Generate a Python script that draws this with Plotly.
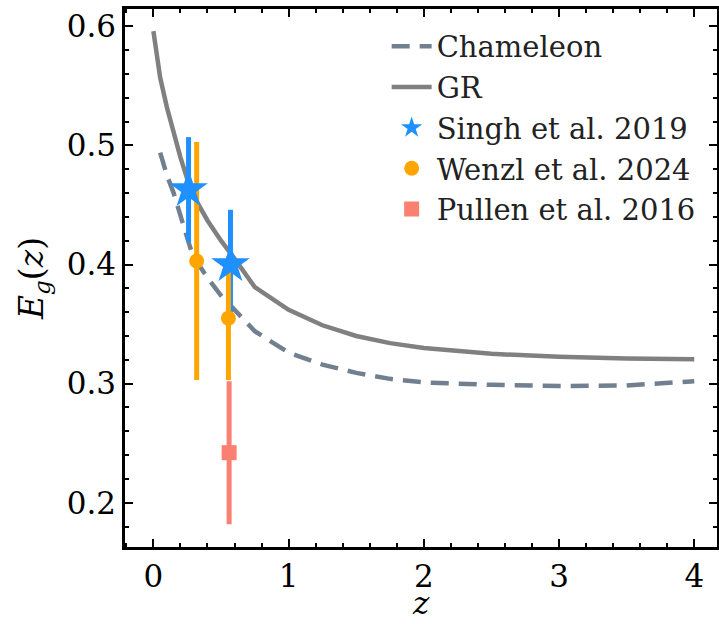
import plotly.graph_objects as go

# GR curve
z_gr = [0.0, 0.05, 0.1, 0.15, 0.2, 0.25, 0.3, 0.4, 0.5, 0.6, 0.75, 1.0, 1.25, 1.5, 1.75, 2.0, 2.5, 3.0, 3.5, 4.0]
eg_gr = [0.596, 0.557, 0.532, 0.510, 0.490, 0.472, 0.457, 0.437, 0.420, 0.405, 0.381, 0.362, 0.349, 0.340, 0.334, 0.330, 0.325, 0.3225, 0.321, 0.3205]

# Chameleon curve
z_ch = [0.05, 0.1, 0.15, 0.2, 0.273, 0.3, 0.4, 0.5, 0.6, 0.75, 1.0, 1.25, 1.5, 1.75, 2.0, 2.5, 3.0, 3.5, 4.0]
eg_ch = [0.494, 0.475, 0.460, 0.440, 0.414, 0.406, 0.389, 0.374, 0.362, 0.344, 0.326, 0.316, 0.309, 0.304, 0.301, 0.299, 0.298, 0.2985, 0.302]

# Data points
z_singh = [0.26, 0.57]
eg_singh = [0.463, 0.400]
err_singh = [0.044, 0.046]

z_wenzl = [0.32, 0.555]
eg_wenzl = [0.403, 0.355]
err_wenzl = [0.100, 0.052]

z_pullen = [0.56]
eg_pullen = [0.242]
err_pullen = [0.060]

FONT = "DejaVu Serif"

fig = go.Figure()
fig.add_trace(go.Scatter(x=z_ch, y=eg_ch, mode="lines", name="Chameleon", legendgroup="a",
                         line=dict(color="#708090", width=4.5, dash="18px,10px"), legendrank=1))
fig.add_trace(go.Scatter(x=z_gr, y=eg_gr, mode="lines", name="GR", legendgroup="b",
                         line=dict(color="#808080", width=4.5), legendrank=2))
# Singh error bars (beneath other data)
fig.add_trace(go.Scatter(x=z_singh, y=eg_singh, mode="markers", showlegend=False,
                         marker=dict(size=1, color="rgba(0,0,0,0)"),
                         error_y=dict(type="data", array=err_singh, color="#1E90FF", thickness=5, width=0)))
fig.add_trace(go.Scatter(x=z_wenzl, y=eg_wenzl, mode="markers", name="Wenzl et al. 2024", legendgroup="d",
                         marker=dict(symbol="circle", size=15, color="#FFA500"),
                         error_y=dict(type="data", array=err_wenzl, color="#FFA500", thickness=5, width=0),
                         legendrank=4))
fig.add_trace(go.Scatter(x=z_pullen, y=eg_pullen, mode="markers", name="Pullen et al. 2016", legendgroup="e",
                         marker=dict(symbol="square", size=15, color="#FA8072"),
                         error_y=dict(type="data", array=err_pullen, color="#FA8072", thickness=5, width=0),
                         legendrank=5))
fig.add_trace(go.Scatter(x=z_singh, y=eg_singh, mode="markers", name="Singh et al. 2019", legendgroup="c",
                         marker=dict(symbol="star", size=29, color="#1E90FF"),
                         legendrank=3))

axis_common = dict(
    showline=True, linecolor="black", linewidth=2.5, mirror="ticks",
    ticks="inside", ticklen=8, tickwidth=2, tickcolor="black",
    showgrid=False, zeroline=False, automargin=False,
    tickfont=dict(family=FONT, size=31, color="black"),
)

fig.update_xaxes(range=[-0.21, 4.168], tickvals=[0, 1, 2, 3, 4],
                 minor=dict(ticks="inside", dtick=0.2, tick0=0, ticklen=4, tickwidth=1.5, tickcolor="black"),
                 **axis_common)
fig.update_yaxes(range=[0.1628, 0.6146], tickvals=[0.2, 0.3, 0.4, 0.5, 0.6],
                 minor=dict(ticks="inside", dtick=0.02, tick0=0, ticklen=4, tickwidth=1.5, tickcolor="black"),
                 title=dict(text="<i>E<sub>g</sub></i>(<i>z</i>)", font=dict(family=FONT, size=33, color="black"), standoff=14),
                 **axis_common)

fig.add_annotation(text="<i>z</i>", xref="paper", yref="paper", x=0.5, y=-0.104,
                   xanchor="center", yanchor="middle", showarrow=False,
                   font=dict(family=FONT, size=31, color="black"))

fig.update_layout(
    width=719, height=624,
    margin=dict(l=125, r=2, t=9, b=77),
    paper_bgcolor="white", plot_bgcolor="white",
    showlegend=True,
    legend=dict(x=0.442, y=0.978, xanchor="left", yanchor="top",
                bgcolor="rgba(255,255,255,0)", borderwidth=0,
                font=dict(family=FONT, size=29, color="#222222"),
                traceorder="grouped", tracegroupgap=0, itemwidth=40),
)

fig.write_html("out.html")
